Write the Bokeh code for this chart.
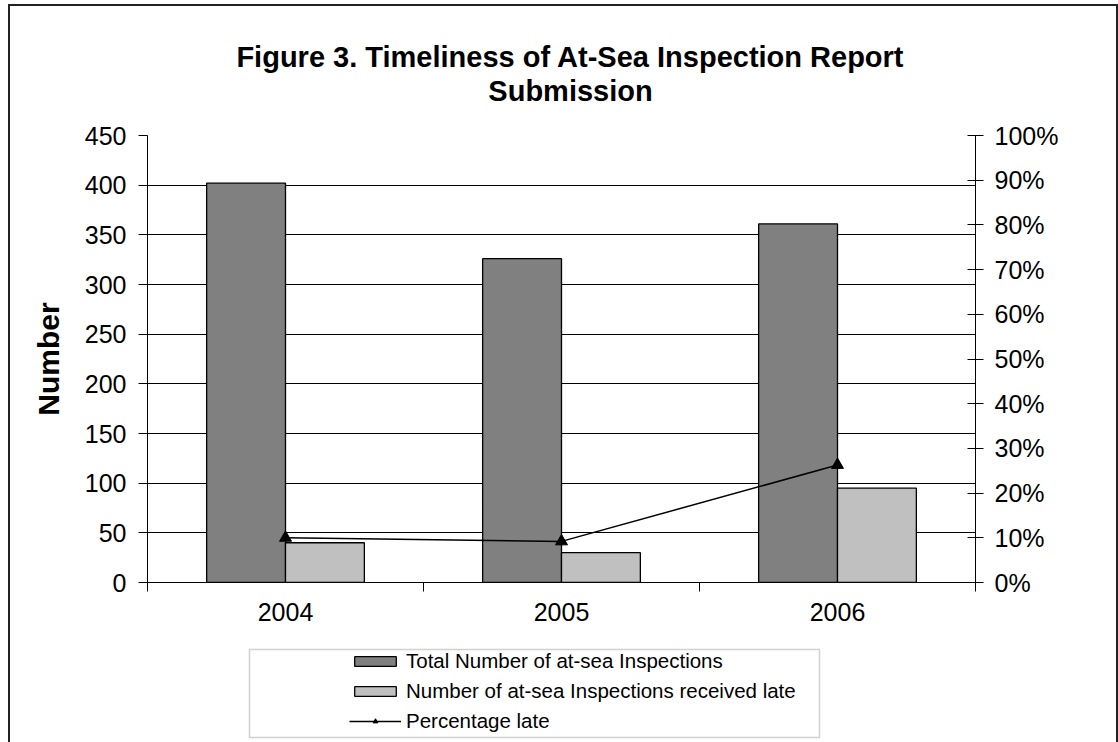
from bokeh.plotting import figure
from bokeh.layouts import column
from bokeh.models import (Range1d, LinearAxis, FixedTicker, NumeralTickFormatter,
                          Legend, LegendItem, BoxAnnotation, Label)
from bokeh.embed import file_html
from bokeh.resources import INLINE

# ---- data ----
years = ["2004", "2005", "2006"]
total_inspections = [402, 326, 361]
late_inspections = [40, 30, 95]
pct_late = [0.100, 0.092, 0.263]
left_ticks = [0, 50, 100, 150, 200, 250, 300, 350, 400, 450]
right_ticks = [0.0, 0.1, 0.2, 0.3, 0.4, 0.5, 0.6, 0.7, 0.8, 0.9, 1.0]
title_lines = ["Figure 3. Timeliness of At-Sea Inspection Report", "Submission"]
series_names = ["Total Number of at-sea Inspections",
                "Number of at-sea Inspections received late",
                "Percentage late"]

FONT = "Liberation Sans"
DARK = "#808080"
LIGHT = "#C0C0C0"

centers = [i + 0.5 for i in range(len(years))]
bw = 1 / 3.5
W = 1106


def bare_figure(h):
    f = figure(width=W, height=h, x_range=Range1d(0, len(years)), y_range=Range1d(0, 450),
               output_backend="svg", toolbar_location=None, x_axis_type=None, y_axis_type=None,
               min_border_left=137, min_border_right=141, min_border_top=0, min_border_bottom=0)
    f.outline_line_color = None
    f.xgrid.visible = False
    f.ygrid.visible = False
    f.background_fill_color = "white"
    f.border_fill_color = "white"
    return f


# ---- title strip ----
tf = bare_figure(114)
for i, t in enumerate(title_lines):
    tf.add_layout(Label(x=423, y=64 - 34 * i, x_units="screen", y_units="screen", text=t,
                        text_align="center", text_baseline="alphabetic", text_font=FONT,
                        text_font_size="29px", text_font_style="bold", text_color="black"))

# ---- main chart ----
p = figure(width=W, height=520, x_range=Range1d(0, len(years)), y_range=Range1d(0, 450),
           output_backend="svg", toolbar_location=None,
           min_border_left=137, min_border_right=141, min_border_top=15, min_border_bottom=58)
p.outline_line_color = None
p.background_fill_color = "white"
p.border_fill_color = "white"

dark = p.vbar(x=[c - bw / 2 for c in centers], top=total_inspections, width=bw, bottom=0,
              fill_color=DARK, line_color="black", line_width=1.3)
light = p.vbar(x=[c + bw / 2 for c in centers], top=late_inspections, width=bw, bottom=0,
               fill_color=LIGHT, line_color="black", line_width=1.3)

p.extra_y_ranges = {"pct": Range1d(0, 1)}
ln = p.line(centers, pct_late, y_range_name="pct", line_color="black", line_width=1.5)
mk = p.scatter(centers, pct_late, y_range_name="pct", marker="triangle", size=12,
               fill_color="black", line_color="black")

p.xgrid.visible = False
p.ygrid.ticker = FixedTicker(ticks=left_ticks)
p.ygrid.grid_line_color = "black"
p.ygrid.grid_line_width = 1

xa = p.xaxis[0]
xa.ticker = FixedTicker(ticks=centers, minor_ticks=list(range(len(years) + 1)))
xa.major_label_overrides = {c: y for c, y in zip(centers, years)}
xa.major_tick_out = 0
xa.major_tick_in = 0
xa.minor_tick_out = 9
xa.minor_tick_in = 0
xa.major_label_standoff = 11
xa.major_label_text_font = FONT
xa.major_label_text_font_size = "25px"
xa.major_label_text_color = "black"
xa.axis_line_color = "black"
xa.minor_tick_line_color = "black"

ya = p.yaxis[0]
ya.ticker = FixedTicker(ticks=left_ticks)
ya.major_tick_out = 9
ya.major_tick_in = 0
ya.minor_tick_line_color = None
ya.major_label_standoff = 12
ya.major_label_text_font = FONT
ya.major_label_text_font_size = "25px"
ya.major_label_text_color = "black"
ya.axis_line_color = "black"
ya.major_tick_line_color = "black"
ya.axis_label = "Number"
ya.axis_label_text_font = FONT
ya.axis_label_text_font_size = "30px"
ya.axis_label_text_font_style = "bold"
ya.axis_label_text_color = "black"
ya.axis_label_standoff = 17

ra = LinearAxis(y_range_name="pct", ticker=FixedTicker(ticks=right_ticks),
                formatter=NumeralTickFormatter(format="0%"))
ra.major_tick_out = 8
ra.major_tick_in = 8
ra.minor_tick_line_color = None
ra.major_label_standoff = 11
ra.major_label_text_font = FONT
ra.major_label_text_font_size = "25px"
ra.major_label_text_color = "black"
ra.axis_line_color = "black"
ra.major_tick_line_color = "black"
p.add_layout(ra, "right")

# ---- legend strip ----
lg = bare_figure(102)
lg.extra_y_ranges = {"pct": Range1d(0, 1)}
l_dark = lg.vbar(x=[c - bw / 2 for c in centers], top=total_inspections, width=bw, bottom=0,
                 fill_color=DARK, line_color="black", line_width=1.3, visible=False)
l_light = lg.vbar(x=[c + bw / 2 for c in centers], top=late_inspections, width=bw, bottom=0,
                  fill_color=LIGHT, line_color="black", line_width=1.3, visible=False)
l_ln = lg.line(centers, pct_late, y_range_name="pct", line_color="black", line_width=1.5,
               visible=False)
l_mk = lg.scatter(centers, pct_late, y_range_name="pct", marker="triangle", size=12,
                  fill_color="black", line_color="black", visible=False)

lg.add_layout(BoxAnnotation(left=102, right=672, top=93, bottom=5,
                            left_units="screen", right_units="screen",
                            top_units="screen", bottom_units="screen",
                            fill_alpha=0, line_color="#666666", line_width=1.5))

legend = Legend(items=[LegendItem(label=series_names[0], renderers=[l_dark]),
                       LegendItem(label=series_names[1], renderers=[l_light]),
                       LegendItem(label=series_names[2], renderers=[l_ln, l_mk])],
                location=(202, 9), orientation="vertical", padding=0, margin=0,
                spacing=6, glyph_width=52, glyph_height=12, label_height=24,
                label_standoff=5, label_text_font=FONT, label_text_font_size="20.5px",
                label_text_color="black", border_line_alpha=0, background_fill_alpha=0)
lg.add_layout(legend, "center")

layout = column(tf, p, lg, spacing=0,
                styles={"margin-left": "8px", "margin-top": "4px",
                        "border-left": "2px solid #222222",
                        "border-right": "2px solid #222222",
                        "border-top": "2px solid #222222",
                        "background-color": "white"})

open("out.html", "w").write(file_html(layout, INLINE))
